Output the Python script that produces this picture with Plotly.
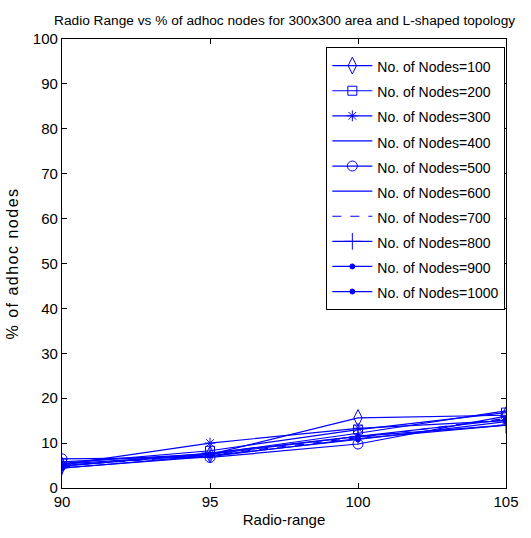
import plotly.graph_objects as go

radio_range = [90, 95, 100, 105]

nodes_100 = [5.0, 7.5, 15.6, 16.2]
nodes_200 = [5.5, 8.3, 13.0, 16.8]
nodes_300 = [5.2, 10.0, 13.3, 15.0]
nodes_400 = [4.5, 7.0, 11.0, 14.0]
nodes_500 = [6.5, 6.8, 9.8, 16.0]
nodes_600 = [5.8, 7.6, 12.2, 17.2]
nodes_700 = [5.0, 7.3, 11.2, 15.5]
nodes_800 = [4.8, 7.8, 11.5, 14.0]
nodes_900 = [4.4, 7.2, 10.8, 14.8]
nodes_1000 = [5.3, 7.5, 11.5, 15.2]

y_ticks = list(range(0, 101, 10))
x_ticks = [90, 95, 100, 105]

BLUE = "#0000ff"
FONT = "Liberation Sans, Arial, sans-serif"

# (name, values, marker symbol, marker size, dash)
series = [
    ("No. of Nodes=100", nodes_100, "diamond-tall-open", 12, "solid"),
    ("No. of Nodes=200", nodes_200, "square-open", 9, "solid"),
    ("No. of Nodes=300", nodes_300, "asterisk-open", 9, "solid"),
    ("No. of Nodes=400", nodes_400, None, 0, "solid"),
    ("No. of Nodes=500", nodes_500, "circle-open", 10, "solid"),
    ("No. of Nodes=600", nodes_600, None, 0, "solid"),
    ("No. of Nodes=700", nodes_700, None, 0, "dash"),
    ("No. of Nodes=800", nodes_800, "cross-thin-open", 12, "solid"),
    ("No. of Nodes=900", nodes_900, "circle", 5, "solid"),
    ("No. of Nodes=1000", nodes_1000, "circle", 5, "solid"),
]

fig = go.Figure()
for name, vals, sym, size, dash in series:
    mode = "lines+markers" if sym else "lines"
    marker = dict(symbol=sym, size=size, color=BLUE,
                  line=dict(color=BLUE, width=1)) if sym else None
    fig.add_trace(go.Scatter(
        x=radio_range, y=vals, mode=mode,
        # legend rows are spaced by the larger legend font; the label itself is 14px
        name=f'<span style="font-size:14px">{name}</span>',
        line=dict(color=BLUE, width=1.2, dash=dash),
        marker=marker,
    ))

axis_common = dict(
    showline=True, linecolor="black", linewidth=1.2, mirror="ticks",
    ticks="inside", ticklen=5, tickcolor="black", showgrid=False,
    zeroline=False, tickfont=dict(family=FONT, size=15, color="black"),
)

fig.update_layout(
    width=531, height=538,
    margin=dict(l=57, r=13, t=39, b=47),
    paper_bgcolor="white", plot_bgcolor="white",
    font=dict(family=FONT, size=14, color="black"),
    title=dict(
        text="Radio Range vs % of adhoc nodes for 300x300 area and L-shaped topology",
        x=0.536, xanchor="center", y=0.963, yanchor="middle",
        font=dict(family=FONT, size=13.7, color="black"),
    ),
    xaxis=dict(range=[90, 105], tickvals=x_ticks,
               title=dict(text="Radio-range", standoff=5,
                          font=dict(family=FONT, size=15)),
               **axis_common),
    yaxis=dict(range=[0, 100], tickvals=y_ticks,
               title=dict(text='<span style="letter-spacing:1.5px">% of adhoc nodes</span>',
                          standoff=10,
                          font=dict(family=FONT, size=16)),
               **axis_common),
    legend=dict(
        x=0.9985, y=0.982, xanchor="right", yanchor="top",
        bordercolor="black", borderwidth=1, bgcolor="white",
        font=dict(family=FONT, size=17, color="black"),
        tracegroupgap=0, itemwidth=40,
    ),
    showlegend=True,
)

fig.write_html("out.html")
